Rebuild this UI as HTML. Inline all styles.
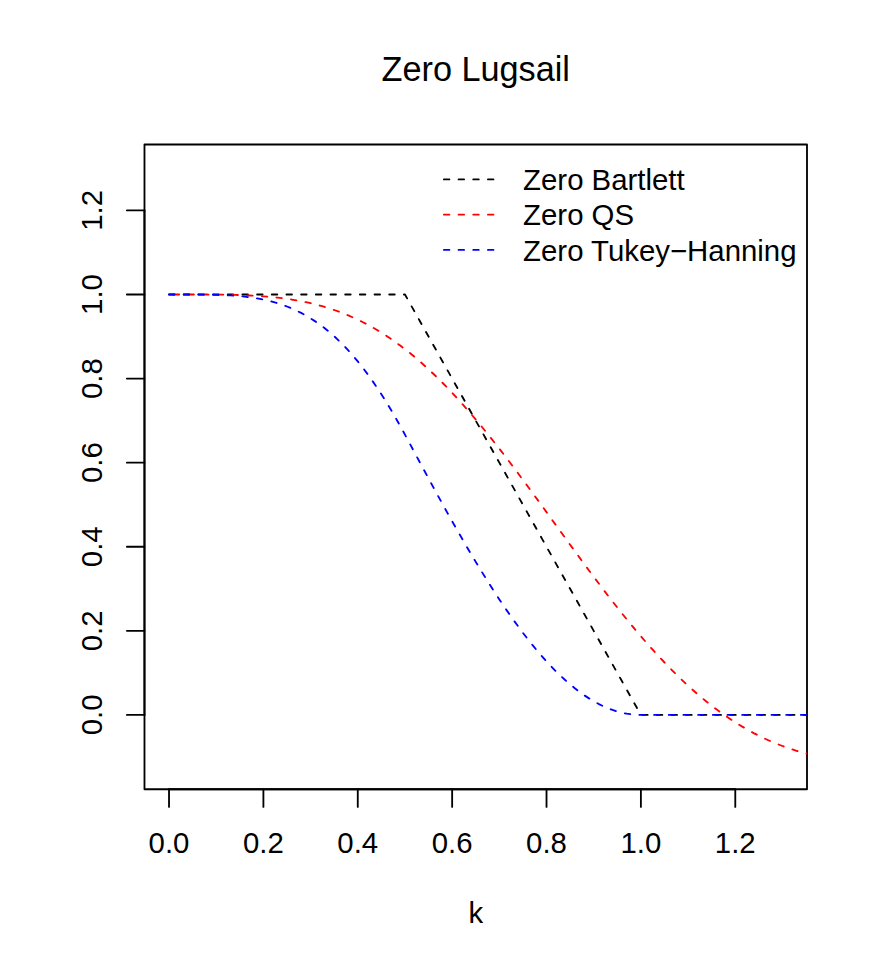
<!DOCTYPE html><html><head><meta charset="utf-8"><title>Zero Lugsail</title>
<style>html,body{margin:0;padding:0;background:#fff;}svg{display:block;position:absolute;left:0;top:0;}text{font-family:"Liberation Sans",sans-serif;}</style></head><body>
<svg width="881" height="969" viewBox="0 0 881 969">
<rect width="881" height="969" fill="#fff"/>
<defs><clipPath id="c"><rect x="144.48" y="144.48" width="662.52" height="644.80"/></clipPath>
</defs>
<g clip-path="url(#c)" fill="none" stroke-width="1.835" stroke-linecap="round" stroke-linejoin="round" stroke-dasharray="5.50 9.18">
<polyline stroke="#000000" points="169.02,294.49 173.74,294.49 178.46,294.49 183.18,294.49 187.90,294.49 192.61,294.49 197.33,294.49 202.05,294.49 206.77,294.49 211.49,294.49 216.21,294.49 220.93,294.49 225.65,294.49 230.36,294.49 235.08,294.49 239.80,294.49 244.52,294.49 249.24,294.49 253.96,294.49 258.68,294.49 263.40,294.49 268.11,294.49 272.83,294.49 277.55,294.49 282.27,294.49 286.99,294.49 291.71,294.49 296.43,294.49 301.15,294.49 305.87,294.49 310.58,294.49 315.30,294.49 320.02,294.49 324.74,294.49 329.46,294.49 334.18,294.49 338.90,294.49 343.62,294.49 348.33,294.49 353.05,294.49 357.77,294.49 362.49,294.49 367.21,294.49 371.93,294.49 376.65,294.49 381.37,294.49 386.08,294.49 390.80,294.49 395.52,294.49 400.24,294.49 404.96,294.49 409.68,302.90 414.40,311.31 419.12,319.72 423.84,328.13 428.55,336.54 433.27,344.94 437.99,353.35 442.71,361.76 447.43,370.17 452.15,378.58 456.87,386.99 461.59,395.40 466.30,403.81 471.02,412.22 475.74,420.63 480.46,429.03 485.18,437.44 489.90,445.85 494.62,454.26 499.34,462.67 504.05,471.08 508.77,479.49 513.49,487.90 518.21,496.31 522.93,504.72 527.65,513.12 532.37,521.53 537.09,529.94 541.81,538.35 546.52,546.76 551.24,555.17 555.96,563.58 560.68,571.99 565.40,580.40 570.12,588.81 574.84,597.21 579.56,605.62 584.27,614.03 588.99,622.44 593.71,630.85 598.43,639.26 603.15,647.67 607.87,656.08 612.59,664.49 617.31,672.90 622.02,681.30 626.74,689.71 631.46,698.12 636.18,706.53 640.90,714.94 645.62,714.94 650.34,714.94 655.06,714.94 659.78,714.94 664.49,714.94 669.21,714.94 673.93,714.94 678.65,714.94 683.37,714.94 688.09,714.94 692.81,714.94 697.53,714.94 702.24,714.94 706.96,714.94 711.68,714.94 716.40,714.94 721.12,714.94 725.84,714.94 730.56,714.94 735.28,714.94 739.99,714.94 744.71,714.94 749.43,714.94 754.15,714.94 758.87,714.94 763.59,714.94 768.31,714.94 773.03,714.94 777.75,714.94 782.46,714.94 787.18,714.94 791.90,714.94 796.62,714.94 801.34,714.94 806.06,714.94 810.78,714.94 815.50,714.94 820.21,714.94 824.93,714.94 829.65,714.94 834.37,714.94 839.09,714.94 843.81,714.94 848.53,714.94 853.25,714.94 857.96,714.94 862.68,714.94 867.40,714.94 872.12,714.94 876.84,714.94"/>
</g>
<g fill="none" stroke="#000" stroke-width="1.835" stroke-linecap="round" stroke-linejoin="round">
<rect x="144.48" y="144.48" width="662.52" height="644.80"/>
<path d="M169.02 789.28H735.28"/>
<path d="M169.02 789.28v17.62"/>
<path d="M263.40 789.28v17.62"/>
<path d="M357.77 789.28v17.62"/>
<path d="M452.15 789.28v17.62"/>
<path d="M546.52 789.28v17.62"/>
<path d="M640.90 789.28v17.62"/>
<path d="M735.28 789.28v17.62"/>
<path d="M144.48 714.94V210.40"/>
<path d="M144.48 714.94h-17.62"/>
<path d="M144.48 630.85h-17.62"/>
<path d="M144.48 546.76h-17.62"/>
<path d="M144.48 462.67h-17.62"/>
<path d="M144.48 378.58h-17.62"/>
<path d="M144.48 294.49h-17.62"/>
<path d="M144.48 210.40h-17.62"/>
</g>
<g clip-path="url(#c)" fill="none" stroke-width="1.835" stroke-linecap="round" stroke-linejoin="round" stroke-dasharray="5.50 9.18">
<polyline stroke="#ff0000" points="173.74,294.49 178.46,294.49 183.18,294.49 187.90,294.49 192.61,294.50 197.33,294.51 202.05,294.52 206.77,294.54 211.49,294.57 216.21,294.61 220.93,294.66 225.65,294.74 230.36,294.83 235.08,294.94 239.80,295.09 244.52,295.26 249.24,295.47 253.96,295.71 258.68,296.00 263.40,296.33 268.11,296.72 272.83,297.16 277.55,297.66 282.27,298.22 286.99,298.86 291.71,299.56 296.43,300.35 301.15,301.22 305.87,302.17 310.58,303.22 315.30,304.37 320.02,305.61 324.74,306.96 329.46,308.42 334.18,309.99 338.90,311.68 343.62,313.49 348.33,315.42 353.05,317.48 357.77,319.67 362.49,321.99 367.21,324.45 371.93,327.04 376.65,329.78 381.37,332.65 386.08,335.67 390.80,338.83 395.52,342.13 400.24,345.58 404.96,349.17 409.68,352.90 414.40,356.78 419.12,360.81 423.84,364.97 428.55,369.28 433.27,373.72 437.99,378.30 442.71,383.01 447.43,387.86 452.15,392.83 456.87,397.93 461.59,403.15 466.30,408.48 471.02,413.93 475.74,419.49 480.46,425.15 485.18,430.91 489.90,436.76 494.62,442.70 499.34,448.72 504.05,454.82 508.77,460.99 513.49,467.23 518.21,473.52 522.93,479.87 527.65,486.26 532.37,492.69 537.09,499.15 541.81,505.64 546.52,512.15 551.24,518.67 555.96,525.19 560.68,531.71 565.40,538.23 570.12,544.73 574.84,551.21 579.56,557.66 584.27,564.08 588.99,570.46 593.71,576.79 598.43,583.07 603.15,589.29 607.87,595.45 612.59,601.53 617.31,607.55 622.02,613.48 626.74,619.32 631.46,625.08 636.18,630.74 640.90,636.30 645.62,641.76 650.34,647.12 655.06,652.36 659.78,657.49 664.49,662.50 669.21,667.39 673.93,672.16 678.65,676.81 683.37,681.33 688.09,685.72 692.81,689.98 697.53,694.11 702.24,698.11 706.96,701.98 711.68,705.71 716.40,709.31 721.12,712.77 725.84,716.10 730.56,719.30 735.28,722.37 739.99,725.30 744.71,728.11 749.43,730.78 754.15,733.33 758.87,735.74 763.59,738.04 768.31,740.21 773.03,742.26 777.75,744.19 782.46,746.00 787.18,747.70 791.90,749.28 796.62,750.76 801.34,752.13 806.06,753.39 810.78,754.55 815.50,755.61 820.21,756.58 824.93,757.45 829.65,758.23 834.37,758.93 839.09,759.53 843.81,760.06 848.53,760.50 853.25,760.87 857.96,761.17 862.68,761.39 867.40,761.55 872.12,761.64 876.84,761.66"/>
<polyline stroke="#0000ff" points="169.02,294.49 173.74,294.49 178.46,294.49 183.18,294.49 187.90,294.50 192.61,294.51 197.33,294.53 202.05,294.57 206.77,294.63 211.49,294.71 216.21,294.83 220.93,294.98 225.65,295.18 230.36,295.44 235.08,295.76 239.80,296.15 244.52,296.63 249.24,297.21 253.96,297.89 258.68,298.68 263.40,299.60 268.11,300.66 272.83,301.87 277.55,303.24 282.27,304.79 286.99,306.51 291.71,308.44 296.43,310.57 301.15,312.91 305.87,315.49 310.58,318.30 315.30,321.37 320.02,324.69 324.74,328.27 329.46,332.13 334.18,336.27 338.90,340.70 343.62,345.42 348.33,350.45 353.05,355.77 357.77,361.41 362.49,367.35 367.21,373.60 371.93,380.16 376.65,387.04 381.37,394.22 386.08,401.71 390.80,409.50 395.52,417.59 400.24,425.97 404.96,434.64 409.68,443.44 414.40,452.24 419.12,461.02 423.84,469.77 428.55,478.49 433.27,487.16 437.99,495.79 442.71,504.35 447.43,512.84 452.15,521.26 456.87,529.59 461.59,537.83 466.30,545.96 471.02,553.99 475.74,561.89 480.46,569.68 485.18,577.32 489.90,584.83 494.62,592.19 499.34,599.40 504.05,606.44 508.77,613.31 513.49,620.01 518.21,626.52 522.93,632.84 527.65,638.97 532.37,644.90 537.09,650.61 541.81,656.12 546.52,661.41 551.24,666.47 555.96,671.31 560.68,675.91 565.40,680.27 570.12,684.39 574.84,688.26 579.56,691.89 584.27,695.26 588.99,698.37 593.71,701.22 598.43,703.81 603.15,706.13 607.87,708.19 612.59,709.98 617.31,711.49 622.02,712.73 626.74,713.70 631.46,714.39 636.18,714.80 640.90,714.94 645.62,714.94 650.34,714.94 655.06,714.94 659.78,714.94 664.49,714.94 669.21,714.94 673.93,714.94 678.65,714.94 683.37,714.94 688.09,714.94 692.81,714.94 697.53,714.94 702.24,714.94 706.96,714.94 711.68,714.94 716.40,714.94 721.12,714.94 725.84,714.94 730.56,714.94 735.28,714.94 739.99,714.94 744.71,714.94 749.43,714.94 754.15,714.94 758.87,714.94 763.59,714.94 768.31,714.94 773.03,714.94 777.75,714.94 782.46,714.94 787.18,714.94 791.90,714.94 796.62,714.94 801.34,714.94 806.06,714.94 810.78,714.94 815.50,714.94 820.21,714.94 824.93,714.94 829.65,714.94 834.37,714.94 839.09,714.94 843.81,714.94 848.53,714.94 853.25,714.94 857.96,714.94 862.68,714.94 867.40,714.94 872.12,714.94 876.84,714.94"/>
</g>
<g fill="#000">
<text transform="translate(169.02 853.00)" font-size="29.37" text-anchor="middle">0.0</text>
<text transform="translate(263.40 853.00)" font-size="29.37" text-anchor="middle">0.2</text>
<text transform="translate(357.77 853.00)" font-size="29.37" text-anchor="middle">0.4</text>
<text transform="translate(452.15 853.00)" font-size="29.37" text-anchor="middle">0.6</text>
<text transform="translate(546.52 853.00)" font-size="29.37" text-anchor="middle">0.8</text>
<text transform="translate(640.90 853.00)" font-size="29.37" text-anchor="middle">1.0</text>
<text transform="translate(735.28 853.00)" font-size="29.37" text-anchor="middle">1.2</text>
<text transform="translate(102.40 714.94) rotate(-90)" font-size="29.37" text-anchor="middle">0.0</text>
<text transform="translate(102.40 630.85) rotate(-90)" font-size="29.37" text-anchor="middle">0.2</text>
<text transform="translate(102.40 546.76) rotate(-90)" font-size="29.37" text-anchor="middle">0.4</text>
<text transform="translate(102.40 462.67) rotate(-90)" font-size="29.37" text-anchor="middle">0.6</text>
<text transform="translate(102.40 378.58) rotate(-90)" font-size="29.37" text-anchor="middle">0.8</text>
<text transform="translate(102.40 294.49) rotate(-90)" font-size="29.37" text-anchor="middle">1.0</text>
<text transform="translate(102.40 210.40) rotate(-90)" font-size="29.37" text-anchor="middle">1.2</text>
<text transform="translate(475.74 923.00)" font-size="29.37" text-anchor="middle">k</text>
<text transform="translate(475.74 80.75)" font-size="34.26" text-anchor="middle">Zero Lugsail</text>
<text transform="translate(523.10 190.20)" font-size="29.37" text-anchor="start">Zero Bartlett</text>
<text transform="translate(523.10 225.44)" font-size="29.37" text-anchor="start">Zero QS</text>
<text transform="translate(523.10 260.68)" font-size="29.37" text-anchor="start">Zero Tukey−Hanning</text>
</g>
<g fill="none" stroke-width="1.835" stroke-linecap="round" stroke-dasharray="5.50 9.18">
<path stroke="#000000" d="M443.90 179.40H496.76"/>
<path stroke="#ff0000" d="M443.90 214.64H496.76"/>
<path stroke="#0000ff" d="M443.90 249.88H496.76"/>
</g>
</svg></body></html>
